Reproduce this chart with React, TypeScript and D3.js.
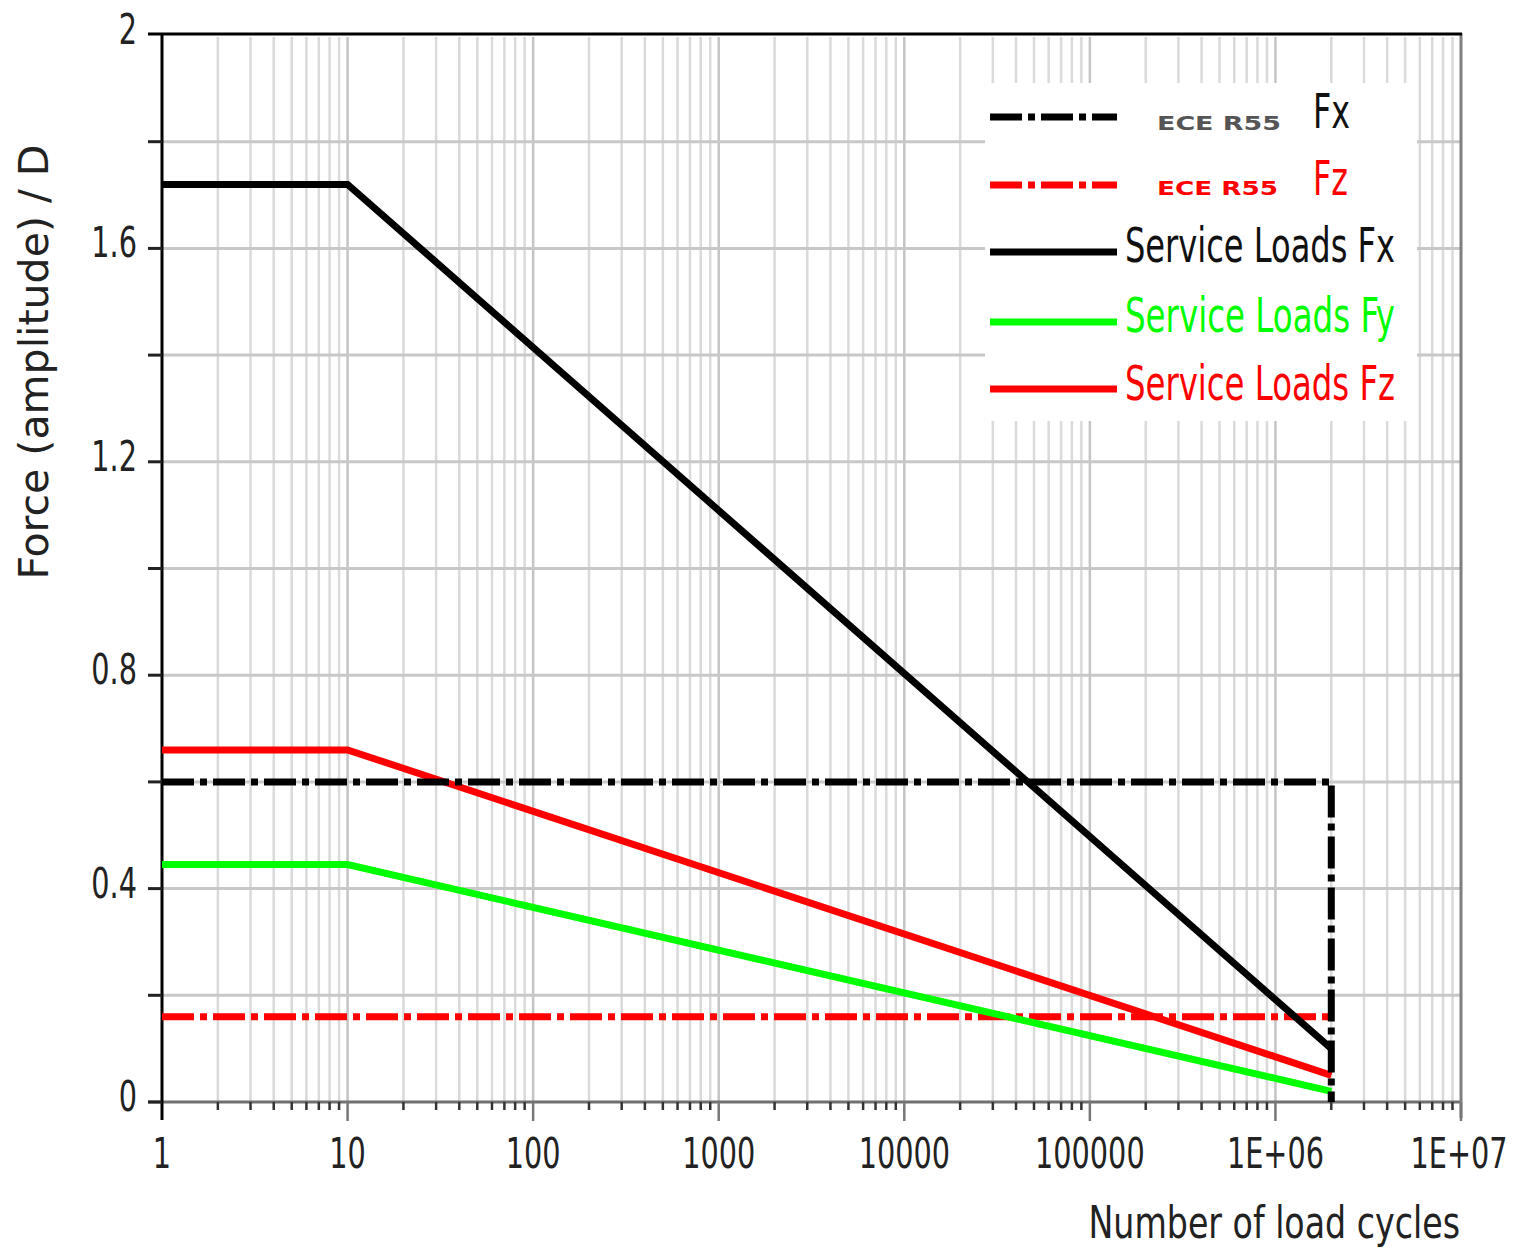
import * as d3 from "d3";

// cycle counts and force amplitudes
const serviceCycles = [1, 10, 2e6];
const serviceFx = [1.72, 1.72, 0.1];
const serviceFy = [0.445, 0.445, 0.02];
const serviceFz = [0.66, 0.66, 0.05];

const eceFxCycles = [1, 2e6, 2e6];
const eceFx = [0.6, 0.6, 0];
const eceFzCycles = [1, 2e6];
const eceFz = [0.16, 0.16];

const xTickValues = [1, 10, 100, 1000, 10000, 100000, 1e6, 1e7];
const xTickLabels = ["1", "10", "100", "1000", "10000", "100000", "1E+06", "1E+07"];
const yTickValues = [0, 0.4, 0.8, 1.2, 1.6, 2];
const yTickLabels = ["0", "0.4", "0.8", "1.2", "1.6", "2"];
const yGridValues = [0.2, 0.4, 0.6, 0.8, 1.0, 1.2, 1.4, 1.6, 1.8];

const FONT = "'DejaVu Sans Condensed', 'Liberation Sans Narrow', sans-serif";
const W = 1514;
const H = 1251;
const SQUEEZE = 0.76; // the original text is very narrow

export default function App() {
  const x = d3.scaleLog().domain([1, 1e7]).range([162, 1461]);
  const y = d3.scaleLinear().domain([0, 2]).range([1102, 35]);

  const minorX: number[] = [];
  for (let d = 1; d < 1e7; d *= 10) {
    for (let k = 2; k <= 9; k++) minorX.push(d * k);
  }

  const line = (xs: number[], ys: number[]) =>
    d3
      .line<number>()
      .x((_, i) => x(xs[i]))
      .y(v => y(v))(ys) ?? "";

  const dash = "32,6,7,6";

  const legend = { x: 985, y: 83, w: 432, h: 338, lx0: 990, lx1: 1117 };

  return (
    <svg width={W} height={H} style={{ position: "absolute", left: 0, top: 0, background: "#fff" }}>
      {/* vertical grid */}
      {minorX.map(v => (
        <line key={"mx" + v} x1={x(v)} x2={x(v)} y1={37} y2={1102} stroke="#dadada" strokeWidth={2.5} />
      ))}
      {xTickValues.slice(1, -1).map(v => (
        <line key={"Mx" + v} x1={x(v)} x2={x(v)} y1={37} y2={1102} stroke="#c4c4c4" strokeWidth={2.5} />
      ))}
      {/* horizontal grid */}
      {yGridValues.map(v => (
        <line key={"gy" + v} x1={162} x2={1461} y1={y(v)} y2={y(v)} stroke="#c8c8c8" strokeWidth={3} />
      ))}

      {/* legend background */}
      <rect x={legend.x} y={legend.y} width={legend.w} height={legend.h} fill="#fff" />

      {/* axes frame */}
      <line x1={148} x2={1462} y1={1102} y2={1102} stroke="#707070" strokeWidth={3} />
      <line x1={1461} x2={1461} y1={33} y2={1118} stroke="#808080" strokeWidth={3} />
      <line x1={148} x2={1462} y1={34} y2={34} stroke="#000" strokeWidth={3} />
      <line x1={162} x2={162} y1={33} y2={1120} stroke="#000" strokeWidth={3} />

      {/* x ticks */}
      {minorX.map(v => (
        <line key={"tx" + v} x1={x(v)} x2={x(v)} y1={1102} y2={1110} stroke="#333" strokeWidth={2.5} />
      ))}
      {xTickValues.slice(1).map(v => (
        <line key={"tX" + v} x1={x(v)} x2={x(v)} y1={1102} y2={1121} stroke="#777" strokeWidth={2.5} />
      ))}
      {/* y ticks */}
      {[0, ...yGridValues].map(v => (
        <line key={"ty" + v} x1={148} x2={162} y1={y(v)} y2={y(v)} stroke="#222" strokeWidth={3} />
      ))}

      {/* x tick labels */}
      {xTickValues.map((v, i) => (
        <text
          key={"lx" + v}
          transform={`translate(${i === xTickValues.length - 1 ? x(v) - 2 : x(v)},1168) scale(${SQUEEZE},1)`}
          textAnchor="middle"
          fontFamily={FONT}
          fontSize={42}
          fill="#222"
        >
          {xTickLabels[i]}
        </text>
      ))}
      {/* y tick labels */}
      {yTickValues.map((v, i) => (
        <text
          key={"ly" + v}
          transform={`translate(137,${y(v) + 9}) scale(${SQUEEZE},1)`}
          textAnchor="end"
          fontFamily={FONT}
          fontSize={42}
          fill="#222"
        >
          {yTickLabels[i]}
        </text>
      ))}

      {/* axis titles */}
      <text
        transform="translate(1460,1238) scale(0.84,1)"
        textAnchor="end"
        fontFamily={FONT}
        fontSize={44}
        fill="#222"
      >
        Number of load cycles
      </text>
      <text
        transform="translate(48,362) rotate(-90)"
        textAnchor="middle"
        fontFamily={FONT}
        fontSize={40}
        fill="#222"
        textLength={435}
        lengthAdjust="spacingAndGlyphs"
      >
        Force (amplitude) / D
      </text>

      {/* series */}
      <path d={line(eceFzCycles, eceFz)} fill="none" stroke="#ff0000" strokeWidth={7} strokeDasharray={dash} />
      <path d={line(serviceCycles, serviceFy)} fill="none" stroke="#00ff00" strokeWidth={7} />
      <path d={line(serviceCycles, serviceFz)} fill="none" stroke="#ff0000" strokeWidth={7} />
      <path d={line(eceFxCycles, eceFx)} fill="none" stroke="#000" strokeWidth={7} strokeDasharray={dash} />
      <path d={line(serviceCycles, serviceFx)} fill="none" stroke="#000" strokeWidth={7} />

      {/* legend */}
      <g fontFamily={FONT}>
        <line x1={legend.lx0} x2={legend.lx1} y1={117} y2={117} stroke="#000" strokeWidth={7} strokeDasharray={dash} />
        <text x={1157} y={130} fontSize={20} fontWeight="bold" fill="#555" textLength={124} lengthAdjust="spacingAndGlyphs">
          ECE R55
        </text>
        <text x={1313} y={128} fontSize={48} fill="#111" textLength={37} lengthAdjust="spacingAndGlyphs">
          Fx
        </text>

        <line x1={legend.lx0} x2={legend.lx1} y1={185} y2={185} stroke="#ff0000" strokeWidth={7} strokeDasharray={dash} />
        <text x={1157} y={195} fontSize={20} fontWeight="bold" fill="#ff0000" textLength={121} lengthAdjust="spacingAndGlyphs">
          ECE R55
        </text>
        <text x={1313} y={195} fontSize={48} fill="#ff0000" textLength={35} lengthAdjust="spacingAndGlyphs">
          Fz
        </text>

        <line x1={legend.lx0} x2={legend.lx1} y1={252} y2={252} stroke="#000" strokeWidth={7} />
        <text x={1125} y={262} fontSize={48} fill="#111" textLength={270} lengthAdjust="spacingAndGlyphs">
          Service Loads Fx
        </text>

        <line x1={legend.lx0} x2={legend.lx1} y1={322} y2={322} stroke="#00ff00" strokeWidth={7} />
        <text x={1125} y={332} fontSize={48} fill="#00ff00" textLength={270} lengthAdjust="spacingAndGlyphs">
          Service Loads Fy
        </text>

        <line x1={legend.lx0} x2={legend.lx1} y1={389} y2={389} stroke="#ff0000" strokeWidth={7} />
        <text x={1125} y={400} fontSize={48} fill="#ff0000" textLength={270} lengthAdjust="spacingAndGlyphs">
          Service Loads Fz
        </text>
      </g>
    </svg>
  );
}
